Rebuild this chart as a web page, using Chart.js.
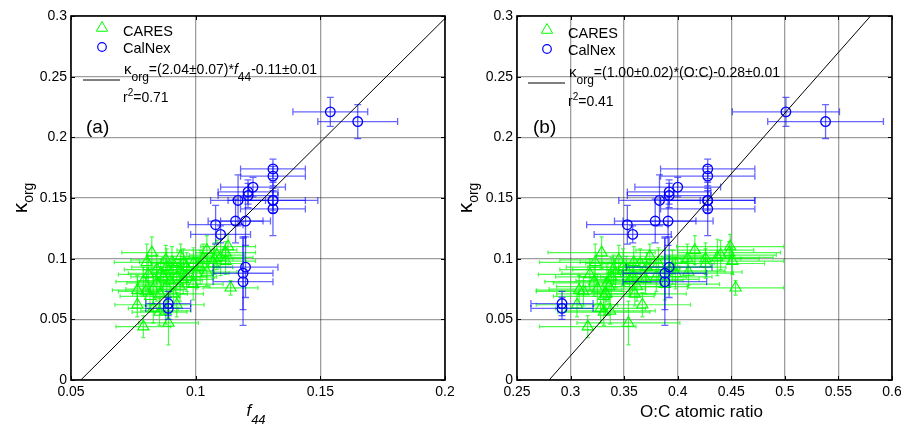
<!DOCTYPE html>
<html><head><meta charset="utf-8">
<script src="https://cdn.jsdelivr.net/npm/chart.js@4.4.0/dist/chart.umd.min.js"></script>
<style>
html,body{margin:0;padding:0;background:#fff;}
#wrap{position:relative;width:901px;height:425px;overflow:hidden;background:#fff;}
canvas{position:absolute;top:0;}
</style></head><body>
<div id="wrap">
<canvas id="cA" width="465" height="425" style="left:0px"></canvas>
<canvas id="cB" width="461" height="425" style="left:450px"></canvas>
</div>
<script>
// ---------- DATA ----------
const caresKappa = [0.105,0.097,0.099,0.102,0.107,0.110,0.105,0.101,0.076,0.074,0.062,0.044,0.047,0.059,0.062,0.080,0.085,0.091,0.093,0.096,0.093,0.096,0.082,0.077,0.071,0.069,0.093,0.091,0.085,0.085,0.088,0.089,0.096,0.077,0.075,0.071,0.100,0.100,0.103,0.098,0.056,0.057,0.087,0.088,0.083,0.079,0.090,0.097,0.073,0.081];
const caresF44 = [0.0824,0.0804,0.0880,0.0940,0.1045,0.1130,0.1120,0.1100,0.1140,0.0766,0.0766,0.0790,0.0891,0.0830,0.0924,0.0844,0.0870,0.0910,0.0964,0.0991,0.1018,0.1071,0.0897,0.0937,0.0857,0.0817,0.0884,0.0844,0.0924,0.0964,0.1004,0.1045,0.0951,0.0884,0.0830,0.0911,0.1030,0.1075,0.1085,0.1120,0.0855,0.0880,0.0810,0.0860,0.0950,0.0990,0.0940,0.0905,0.0800,0.0790];
const caresOC = [0.329,0.323,0.345,0.374,0.416,0.449,0.448,0.437,0.454,0.308,0.306,0.316,0.354,0.328,0.367,0.334,0.338,0.352,0.371,0.382,0.395,0.426,0.355,0.362,0.333,0.331,0.349,0.340,0.358,0.380,0.398,0.410,0.365,0.336,0.325,0.360,0.409,0.426,0.440,0.451,0.331,0.337,0.318,0.342,0.370,0.388,0.392,0.359,0.312,0.322];
const caresF44Err = [0.012,0.013,0.014,0.013,0.012,0.011,0.012,0.013,0.011,0.010,0.009,0.011,0.012,0.010,0.011,0.012,0.013,0.012,0.013,0.014,0.013,0.012,0.013,0.012,0.011,0.012,0.014,0.013,0.012,0.012,0.013,0.012,0.013,0.012,0.011,0.012,0.012,0.012,0.011,0.012,0.011,0.010,0.012,0.013,0.012,0.012,0.013,0.013,0.011,0.011];
const caresOCErr = [0.050,0.052,0.055,0.050,0.055,0.050,0.048,0.052,0.045,0.040,0.038,0.045,0.048,0.042,0.045,0.050,0.052,0.050,0.055,0.052,0.050,0.055,0.050,0.048,0.046,0.047,0.053,0.050,0.050,0.052,0.054,0.050,0.051,0.049,0.045,0.048,0.050,0.050,0.052,0.048,0.043,0.042,0.048,0.050,0.050,0.051,0.052,0.050,0.044,0.046];
const caresKappaErr = [0.013,0.015,0.012,0.010,0.012,0.010,0.009,0.015,0.006,0.012,0.010,0.009,0.018,0.012,0.010,0.015,0.016,0.011,0.012,0.013,0.014,0.012,0.013,0.012,0.013,0.011,0.015,0.012,0.011,0.012,0.013,0.011,0.012,0.014,0.012,0.010,0.012,0.013,0.012,0.011,0.011,0.011,0.013,0.012,0.012,0.013,0.012,0.013,0.012,0.012];

const calnexKappa = [0.221,0.213,0.174,0.168,0.159,0.155,0.152,0.148,0.148,0.148,0.141,0.131,0.131,0.128,0.120,0.093,0.088,0.081,0.063,0.059];
const calnexF44 = [0.154,0.165,0.131,0.131,0.123,0.121,0.121,0.117,0.131,0.131,0.131,0.120,0.116,0.108,0.110,0.120,0.119,0.119,0.089,0.089];
const calnexOC = [0.501,0.538,0.428,0.428,0.400,0.392,0.392,0.383,0.428,0.428,0.428,0.391,0.379,0.353,0.358,0.392,0.388,0.388,0.292,0.292];
const calnexF44Err = [0.015,0.016,0.013,0.013,0.013,0.012,0.012,0.011,0.013,0.018,0.013,0.010,0.011,0.011,0.012,0.013,0.012,0.012,0.009,0.009];
const calnexOCErr = [0.050,0.054,0.044,0.044,0.040,0.039,0.039,0.038,0.044,0.044,0.044,0.042,0.038,0.038,0.036,0.040,0.039,0.039,0.029,0.029];
const calnexKappaErr = [0.012,0.014,0.008,0.008,0.008,0.010,0.010,0.021,0.008,0.010,0.022,0.020,0.018,0.016,0.007,0.025,0.030,0.036,0.010,0.009];

const fitA = [2.04, -0.11];   // slope, intercept
const fitB = [1.00, -0.28];

const xTicksA = [0.05, 0.1, 0.15, 0.2];
const xTicksB = [0.25, 0.3, 0.35, 0.4, 0.45, 0.5, 0.55, 0.6];
const yTicks = [0, 0.05, 0.1, 0.15, 0.2, 0.25, 0.3];

const seriesNames = ['CARES', 'CalNex'];

// ---------- HELPERS ----------
const FF = '"Liberation Sans", Arial, Helvetica, sans-serif';
const fmt = v => String(parseFloat(Number(v).toFixed(3)));
const pts = (xs, ys) => xs.map((x, i) => ({x: x, y: ys[i]}));

function rich(ctx, x, y, parts) {
  let cx = x;
  parts.forEach(p => {
    ctx.font = (p.i ? 'italic ' : '') + p.s + 'px ' + FF;
    ctx.fillText(p.t, cx, y + (p.dy || 0));
    cx += ctx.measureText(p.t).width;
  });
  return cx - x;
}
function richWidth(ctx, parts) {
  let w = 0;
  parts.forEach(p => { ctx.font = (p.i ? 'italic ' : '') + p.s + 'px ' + FF; w += ctx.measureText(p.t).width; });
  return w;
}
function tri(ctx, x, y, r) {
  ctx.beginPath();
  let rad = 0;
  ctx.moveTo(x + Math.sin(rad) * r, y - Math.cos(rad) * r);
  rad += 2 * Math.PI / 3;
  ctx.lineTo(x + Math.sin(rad) * r, y - Math.cos(rad) * r);
  rad += 2 * Math.PI / 3;
  ctx.lineTo(x + Math.sin(rad) * r, y - Math.cos(rad) * r);
  ctx.closePath();
  ctx.stroke();
}

const errPlugin = {
  id: 'errbars',
  beforeDatasetDraw(chart, args) {
    const ds = chart.data.datasets[args.index];
    if (!ds.xErr) return;
    const ctx = chart.ctx, a = chart.chartArea;
    const xs = chart.scales.x, ys = chart.scales.y;
    ctx.save();
    ctx.beginPath(); ctx.rect(a.left, a.top, a.right - a.left, a.bottom - a.top); ctx.clip();
    ctx.strokeStyle = ds.errColor; ctx.lineWidth = ds.errWidth;
    const c = ds.capSize;
    ds.data.forEach((p, i) => {
      const px = xs.getPixelForValue(p.x), py = ys.getPixelForValue(p.y);
      const x0 = xs.getPixelForValue(p.x - ds.xErr[i]), x1 = xs.getPixelForValue(p.x + ds.xErr[i]);
      const y0 = ys.getPixelForValue(p.y - ds.yErr[i]), y1 = ys.getPixelForValue(p.y + ds.yErr[i]);
      ctx.beginPath();
      ctx.moveTo(x0, py); ctx.lineTo(x1, py);
      ctx.moveTo(x0, py - c); ctx.lineTo(x0, py + c);
      ctx.moveTo(x1, py - c); ctx.lineTo(x1, py + c);
      ctx.stroke();
      ctx.beginPath();
      ctx.moveTo(px, y0); ctx.lineTo(px, y1);
      ctx.moveTo(px - c, y0); ctx.lineTo(px + c, y0);
      ctx.moveTo(px - c, y1); ctx.lineTo(px + c, y1);
      ctx.stroke();
    });
    ctx.restore();
  }
};

const decoPlugin = {
  id: 'deco',
  afterDraw(chart, args, o) {
    const ctx = chart.ctx, a = chart.chartArea;
    const xs = chart.scales.x, ys = chart.scales.y;
    ctx.save();
    // inward tick marks on all four sides
    ctx.strokeStyle = '#000'; ctx.lineWidth = 1;
    const tl = 4;
    ctx.beginPath();
    o.xTicks.forEach(v => {
      const px = Math.round(xs.getPixelForValue(v)) + 0.5;
      ctx.moveTo(px, a.bottom); ctx.lineTo(px, a.bottom - tl);
      ctx.moveTo(px, a.top); ctx.lineTo(px, a.top + tl);
    });
    yTicks.forEach(v => {
      const py = Math.round(ys.getPixelForValue(v)) + 0.5;
      ctx.moveTo(a.left, py); ctx.lineTo(a.left + tl, py);
      ctx.moveTo(a.right, py); ctx.lineTo(a.right - tl, py);
    });
    ctx.stroke();
    // frame
    ctx.lineWidth = 1.6;
    ctx.strokeRect(a.left, a.top, a.right - a.left, a.bottom - a.top);

    // legend
    const L = a.left, T = a.top;
    ctx.fillStyle = '#000';
    ctx.textBaseline = 'alphabetic';
    ctx.lineWidth = 1;
    ctx.strokeStyle = '#00ff00';
    tri(ctx, L + o.symX, T + o.triY, 6.5);
    ctx.strokeStyle = '#0000ff'; ctx.lineWidth = 1.2;
    ctx.beginPath(); ctx.arc(L + o.symX, T + o.cirY, 4.3, 0, 2 * Math.PI); ctx.stroke();
    ctx.strokeStyle = '#000'; ctx.lineWidth = 1;
    ctx.beginPath(); ctx.moveTo(L + o.lineX0, T + o.lineY); ctx.lineTo(L + o.lineX1, T + o.lineY); ctx.stroke();
    ctx.font = '14.5px ' + FF;
    ctx.fillText(seriesNames[0], L + o.textX, T + o.triY + 8);
    ctx.fillText(seriesNames[1], L + o.textX, T + o.cirY + 6);
    rich(ctx, L + o.textX + 1, T + o.eqY, o.eq);
    rich(ctx, L + o.textX, T + o.r2Y, [{t: 'r', s: 14}, {t: '2', s: 10, dy: -6}, {t: o.r2, s: 14}]);
    ctx.font = '19px ' + FF;
    ctx.fillText(o.tag, L + o.tagX, T + o.tagY);

    // x-axis title
    const cx = (a.left + a.right) / 2;
    const w = richWidth(ctx, o.xTitle);
    rich(ctx, cx - w / 2 + o.xTitleDx, a.bottom + o.xTitleY, o.xTitle);

    // y-axis title (rotated)
    const yt = [{t: 'κ', s: 21}, {t: 'org', s: 14, dy: 6}];
    const wy = richWidth(ctx, yt);
    ctx.translate(a.left + o.yTitleX, (a.top + a.bottom) / 2);
    ctx.rotate(-Math.PI / 2);
    rich(ctx, -wy / 2, 0, yt);
    ctx.restore();
  }
};

function fitLine(fit) {
  const m = fit[0], b = fit[1];
  return [{x: (0 - b) / m, y: 0}, {x: (0.3 - b) / m, y: 0.3}];
}

function makeChart(id, opts) {
  const xTicks = opts.xTicks;
  const cfg = {
    type: 'scatter',
    data: {
      datasets: [
        {
          label: seriesNames[0], order: 3,
          data: pts(opts.caresX, caresKappa),
          xErr: opts.caresXErr, yErr: caresKappaErr,
          errColor: 'rgba(0,250,0,0.7)', errWidth: 1.2, capSize: 2,
          pointStyle: 'triangle', pointRadius: 6.5, borderColor: '#00ff00',
          backgroundColor: 'rgba(0,0,0,0)', borderWidth: 1.1
        },
        {
          label: seriesNames[1], order: 2,
          data: pts(opts.calnexX, calnexKappa),
          xErr: opts.calnexXErr, yErr: calnexKappaErr,
          errColor: 'rgba(0,0,255,0.6)', errWidth: 1.3, capSize: 3.5,
          pointStyle: 'circle', pointRadius: 4.8, borderColor: '#0000ff',
          backgroundColor: 'rgba(0,0,0,0)', borderWidth: 1.3
        },
        {
          type: 'line', label: 'fit', order: 1,
          data: fitLine(opts.fit),
          borderColor: '#000', borderWidth: 1, pointRadius: 0, fill: false
        }
      ]
    },
    options: {
      responsive: false, animation: false, devicePixelRatio: 1,
      layout: {padding: {top: 16, right: opts.padRight, bottom: 0, left: 0}},
      plugins: {
        legend: {display: false}, tooltip: {enabled: false},
        deco: opts.deco
      },
      scales: {
        x: {
          type: 'linear', min: xTicks[0], max: xTicks[xTicks.length - 1],
          afterFit(s) { s.height = 45; },
          afterBuildTicks(s) { s.ticks = xTicks.map(v => ({value: v})); },
          ticks: {callback: fmt, font: {family: FF, size: 14}, color: '#000', padding: 4, maxRotation: 0, autoSkip: false},
          grid: {color: 'rgba(0,0,0,0.38)', lineWidth: 1.3, drawTicks: false, tickLength: 0},
          border: {display: false}
        },
        y: {
          type: 'linear', min: 0, max: 0.3,
          afterFit(s) { s.width = opts.yWidth; },
          afterBuildTicks(s) { s.ticks = yTicks.map(v => ({value: v})); },
          ticks: {callback: fmt, font: {family: FF, size: 14}, color: '#000', padding: 4, autoSkip: false},
          grid: {color: 'rgba(0,0,0,0.38)', lineWidth: 1.3, drawTicks: false, tickLength: 0},
          border: {display: false}
        }
      }
    },
    plugins: [errPlugin, decoPlugin]
  };
  return new Chart(document.getElementById(id), cfg);
}

makeChart('cA', {
  xTicks: xTicksA, caresX: caresF44, caresXErr: caresF44Err,
  calnexX: calnexF44, calnexXErr: calnexF44Err, fit: fitA,
  padRight: 20, yWidth: 71,
  deco: {
    xTicks: xTicksA,
    symX: 31, triY: 12, cirY: 31, textX: 52, lineX0: 12, lineX1: 49, lineY: 64,
    eqY: 58, r2Y: 86, tagX: 15, tagY: 117, tag: '(a)',
    eq: [{t: 'κ', s: 15}, {t: 'org', s: 12, dy: 7}, {t: '=(2.04±0.07)*', s: 14}, {t: 'f', s: 14, i: true}, {t: '44', s: 12, dy: 7}, {t: '-0.11±0.01', s: 14}],
    r2: '=0.71',
    xTitle: [{t: 'f', s: 17, i: true}, {t: '44', s: 13, i: true, dy: 8}],
    xTitleDx: -2, xTitleY: 36, yTitleX: -44
  }
});

makeChart('cB', {
  xTicks: xTicksB, caresX: caresOC, caresXErr: caresOCErr,
  calnexX: calnexOC, calnexXErr: calnexOCErr, fit: fitB,
  padRight: 19, yWidth: 67,
  deco: {
    xTicks: xTicksB,
    symX: 30, triY: 14, cirY: 33, textX: 51, lineX0: 11, lineX1: 48, lineY: 67,
    eqY: 61, r2Y: 90, tagX: 16, tagY: 117, tag: '(b)',
    eq: [{t: 'κ', s: 15}, {t: 'org', s: 12, dy: 7}, {t: '=(1.00±0.02)*(O:C)-0.28±0.01', s: 14}],
    r2: '=0.41',
    xTitle: [{t: 'O:C atomic ratio', s: 17}],
    xTitleDx: -3, xTitleY: 37, yTitleX: -45
  }
});
</script>
</body></html>
